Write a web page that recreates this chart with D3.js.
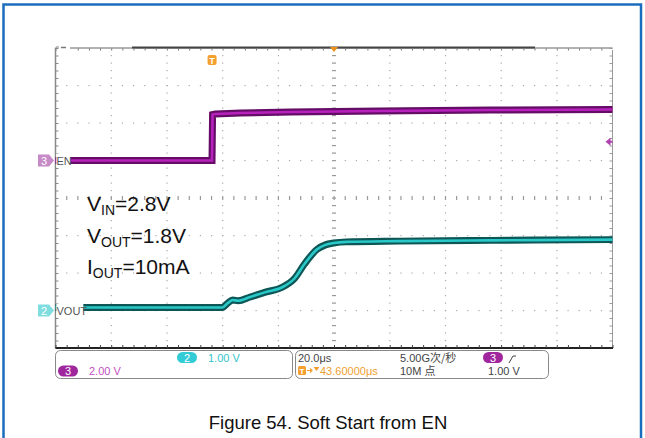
<!DOCTYPE html>
<meta charset="utf-8">
<script src="https://d3js.org/d3.v7.min.js"></script>
<style>
body { margin: 0; background: #fff; }
svg { display: block; }
.scope text { font-family: "Liberation Sans Narrow", "Liberation Sans", sans-serif; }
.cjk { font-family: "Noto Sans CJK SC", sans-serif; }
</style>
<body>
<script>

// EN channel (ch3), time in us relative to trigger, volts
var enTime  = [-56.4, -0.2, 0, 1, 10, 28, 60, 100, 143.6];
var enVolts = [0, 0, 2.45, 2.48, 2.53, 2.59, 2.64, 2.69, 2.72];

// VOUT channel (ch2)
var voutTime  = [-56.4, 3.5, 5.5, 7.2, 9.2, 13.5, 19, 25, 29.5, 33, 37.5, 40.5, 43.5, 48, 67, 100, 143.6];
var voutVolts = [0.08, 0.08, 0.2, 0.28, 0.26, 0.36, 0.49, 0.62, 0.86, 1.24, 1.63, 1.75, 1.8, 1.83, 1.85, 1.87, 1.89];

var notes = [["V", "IN", "=2.8V"], ["V", "OUT", "=1.8V"], ["I", "OUT", "=10mA"]];

var width = 645, height = 438;
var gLeft = 55.5, gRight = 612.5, gTop = 48, gBottom = 348;

var svg = d3.select("body").append("svg")
    .attr("width", width)
    .attr("height", height);

// blue page border
svg.append("rect")
    .attr("x", 3.5).attr("y", 4.5)
    .attr("width", 637.5).attr("height", 480)
    .attr("fill", "none")
    .attr("stroke", "#1a6dbd")
    .attr("stroke-width", 2.5);

var x = d3.scaleLinear().domain([-56.4, 143.6]).range([gLeft, gRight]);
var div = d3.scaleLinear().domain([0, 8]).range([gBottom, gTop]);   // vertical divisions
var yEN = function(v) { return div(5 + v / 2); };    // 2.00 V/div, offset 5 div
var yOUT = function(v) { return div(1 + v / 1); };   // 1.00 V/div, offset 1 div

var g = svg.append("g").attr("class", "scope");

// graticule dots
var majorT = d3.range(1, 10).map(function(i) { return -56.4 + 20 * i; });
var minorT = d3.range(0, 51).map(function(i) { return -56.4 + 4 * i; });
var minorD = d3.range(0, 41).map(function(i) { return i / 5; });

majorT.forEach(function(t) {
  var center = Math.abs(t - 43.6) < 0.1;
  g.append("g").selectAll("rect")
    .data(minorD.slice(1, -1))
    .enter().append("rect")
    .attr("x", function() { return x(t) - (center ? 2 : 0.5); })
    .attr("y", function(d) { return div(d) - 0.5; })
    .attr("width", center ? 4 : 1.2)
    .attr("height", 1.2)
    .attr("fill", center ? "#999" : "#aaa");
});
d3.range(1, 8).forEach(function(j) {
  var center = j === 4;
  g.append("g").selectAll("rect")
    .data(minorT.slice(1, -1))
    .enter().append("rect")
    .attr("x", function(d) { return x(d) - 0.5; })
    .attr("y", div(j) - (center ? 2 : 0.5))
    .attr("width", 1.2)
    .attr("height", center ? 4 : 1.2)
    .attr("fill", center ? "#999" : "#aaa");
});

// frame: left, right, bottom
g.append("line").attr("x1", gLeft).attr("x2", gLeft).attr("y1", gTop).attr("y2", gBottom)
    .attr("stroke", "#888").attr("stroke-width", 1.5);
g.append("line").attr("x1", gRight).attr("x2", gRight).attr("y1", gTop + 2).attr("y2", gBottom)
    .attr("stroke", "#999").attr("stroke-width", 1);

g.append("g").attr("transform", "translate(" + gLeft + ",0)")
    .call(d3.axisRight(div).tickValues(minorD).tickSize(3).tickFormat(""))
    .call(function(s) { s.select(".domain").remove(); s.selectAll("line").attr("stroke", "#888"); });
g.append("g").attr("transform", "translate(" + gRight + ",0)")
    .call(d3.axisLeft(div).tickValues(minorD).tickSize(3).tickFormat(""))
    .call(function(s) { s.select(".domain").remove(); s.selectAll("line").attr("stroke", "#999"); });

g.append("line").attr("x1", gLeft).attr("x2", gRight + 0.5).attr("y1", gBottom).attr("y2", gBottom)
    .attr("stroke", "#222").attr("stroke-width", 2);
g.append("g").attr("transform", "translate(0," + gBottom + ")")
    .call(d3.axisTop(x).tickValues(minorT).tickSize(3).tickFormat(""))
    .call(function(s) { s.select(".domain").remove(); s.selectAll("line").attr("stroke", "#444"); });

// top record bar
g.append("line").attr("x1", 70).attr("x2", gRight).attr("y1", gTop).attr("y2", gTop)
    .attr("stroke", "#999").attr("stroke-width", 1.5);
g.append("line").attr("x1", 132).attr("x2", 535).attr("y1", gTop - 0.5).attr("y2", gTop - 0.5)
    .attr("stroke", "#444").attr("stroke-width", 2.2);
g.append("path").attr("d", "M56,51 V47 H59").attr("fill", "none").attr("stroke", "#888");
g.append("line").attr("x1", 61).attr("x2", 66).attr("y1", 47.5).attr("y2", 47.5)
    .attr("stroke", "#777").attr("stroke-width", 1.5);
g.append("g").attr("transform", "translate(0," + (gTop + 0.5) + ")")
    .call(d3.axisBottom(x).tickValues(minorT.slice(2, -1)).tickSize(2).tickFormat(""))
    .call(function(s) { s.select(".domain").remove(); s.selectAll("line").attr("stroke", "#777"); });

// center marker (orange triangle) and trigger marker
g.append("path")
    .attr("d", "M" + (x(43.6) - 4) + ",47 h8 l-4,5 z")
    .attr("fill", "#f0901a");
g.append("rect").attr("x", x(0) - 5).attr("y", 55).attr("width", 9).attr("height", 10)
    .attr("rx", 2).attr("fill", "#f4a030");
g.append("text").attr("x", x(0) - 0.5).attr("y", 63.5)
    .attr("text-anchor", "middle").attr("fill", "#fff")
    .style("font-size", "9px").style("font-weight", "bold").text("T");

// trigger level arrow
g.append("path")
    .attr("d", "M" + (gRight - 7) + "," + yEN(1) + " l5,-4 v3 h2 v2 h-2 v3 z")
    .attr("fill", "#b040b0");

// traces
var enLine = d3.line()
    .x(function(d, i) { return x(enTime[i]); })
    .y(function(d) { return yEN(d); });
var outLine = d3.line()
    .x(function(d, i) { return x(voutTime[i]); })
    .y(function(d) { return yOUT(d); })
    .curve(d3.curveMonotoneX);

g.append("path").datum(enVolts).attr("d", enLine)
    .attr("fill", "none").attr("stroke", "#640c66").attr("stroke-width", 7);
g.append("path").datum(enVolts).attr("d", enLine)
    .attr("fill", "none").attr("stroke", "#b822bc").attr("stroke-width", 2.6);

g.append("path").datum(voutVolts).attr("d", outLine)
    .attr("fill", "none").attr("stroke", "#0c5656").attr("stroke-width", 7);
g.append("path").datum(voutVolts).attr("d", outLine)
    .attr("fill", "none").attr("stroke", "#2ac8c8").attr("stroke-width", 2.6);

// channel labels on the left
function chanMark(y, num, fill, label, labelW) {
  g.append("rect").attr("x", gLeft + 0.8).attr("y", y - 7).attr("width", labelW).attr("height", 14)
      .attr("fill", "#fff");
  g.append("path")
      .attr("d", "M38," + (y - 6) + " h11 l5,6 l-5,6 h-11 z")
      .attr("fill", fill);
  g.append("text").attr("x", 44).attr("y", y + 4)
      .attr("text-anchor", "middle").attr("fill", "#fff")
      .style("font-size", "11px").text(num);
  g.append("text").attr("x", gLeft + 1).attr("y", y + 4)
      .attr("fill", "#555").style("font-size", "11px").text(label);
}
chanMark(yEN(0), "3", "#c68ac6", "EN", 14);
chanMark(yOUT(0), "2", "#7fdde0", "VOUT", 27);

// annotations
var ann = svg.append("g")
    .style("font-family", "'Liberation Sans', Arial, sans-serif")
    .style("font-size", "21px")
    .attr("fill", "#111");
notes.forEach(function(n, i) {
  var t = ann.append("text").attr("x", 87).attr("y", 211 + i * 31.5);
  t.append("tspan").text(n[0]);
  t.append("tspan").style("font-size", "14px").attr("dy", 4).text(n[1]);
  t.append("tspan").attr("dy", -4).text(n[2]);
});

// bottom info boxes
var info = svg.append("g").attr("class", "scope").style("font-size", "11px");
info.append("rect").attr("x", 55.5).attr("y", 350.5).attr("width", 237).attr("height", 28)
    .attr("rx", 5).attr("fill", "#fff").attr("stroke", "#888");
info.append("rect").attr("x", 295.5).attr("y", 350.5).attr("width", 253).attr("height", 28)
    .attr("rx", 5).attr("fill", "#fff").attr("stroke", "#888");

function pill(cx, cy, fill, txt) {
  info.append("rect").attr("x", cx - 10).attr("y", cy - 5.5).attr("width", 20).attr("height", 11)
      .attr("rx", 5.5).attr("fill", fill);
  info.append("text").attr("x", cx).attr("y", cy + 4)
      .attr("text-anchor", "middle").attr("fill", "#fff")
      .style("font-size", "11px").text(txt);
}
pill(187, 357.5, "#33ccd6", "2");
info.append("text").attr("x", 208).attr("y", 361.5).attr("fill", "#33c6cc").text("1.00 V");
pill(68, 371, "#a0269e", "3");
info.append("text").attr("x", 89).attr("y", 375).attr("fill", "#c050c0").text("2.00 V");

info.append("text").attr("x", 298).attr("y", 361.5).attr("fill", "#444").text("20.0μs");
info.append("rect").attr("x", 298).attr("y", 366).attr("width", 8).attr("height", 9)
    .attr("rx", 1.5).attr("fill", "#f4a030");
info.append("text").attr("x", 302).attr("y", 374).attr("text-anchor", "middle")
    .attr("fill", "#fff").style("font-size", "8px").style("font-weight", "bold").text("T");
// small arrow and down-triangle after trigger icon
info.append("path").attr("d", "M307,370.5 h5 M310,368.5 l2,2 l-2,2")
    .attr("fill", "none").attr("stroke", "#f0a030").attr("stroke-width", 1.2);
info.append("path").attr("d", "M313.5,367 h6 l-3,4 z").attr("fill", "#f0a030");
info.append("text").attr("x", 320).attr("y", 375).attr("fill", "#f0a030").text("43.60000μs");

var s1 = info.append("text").attr("x", 400).attr("y", 361.5).attr("fill", "#444");
s1.append("tspan").text("5.00G");
s1.append("tspan").attr("class", "cjk").style("font-size", "11px").text("次/秒");
var s2 = info.append("text").attr("x", 400).attr("y", 375).attr("fill", "#444");
s2.append("tspan").text("10M ");
s2.append("tspan").attr("class", "cjk").style("font-size", "11px").text("点");

pill(493, 357.5, "#a0269e", "3");
info.append("path").attr("d", "M509,363 l4,-7 h3").attr("fill", "none").attr("stroke", "#444");
info.append("text").attr("x", 488).attr("y", 375).attr("fill", "#444").text("1.00 V");

// caption
svg.append("text")
    .attr("x", 328).attr("y", 429)
    .attr("text-anchor", "middle")
    .style("font-family", "'Liberation Sans', Arial, sans-serif")
    .style("font-size", "18.5px")
    .attr("fill", "#111")
    .text("Figure 54. Soft Start from EN");

</script>
</body>
